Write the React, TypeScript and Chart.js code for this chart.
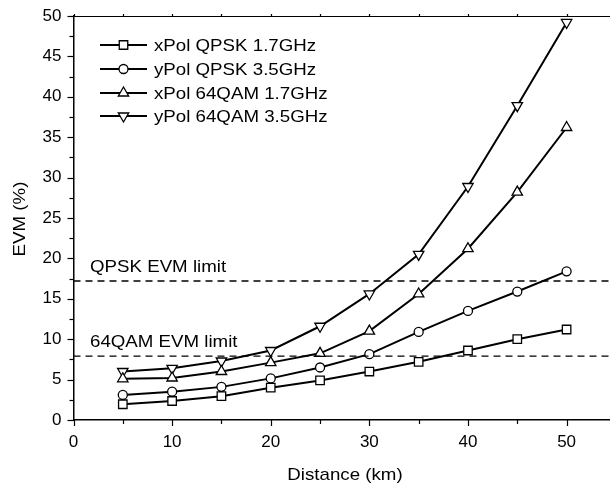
import React, { useEffect, useRef } from "react";
import { Chart, registerables } from "chart.js";

Chart.register(...registerables);

const distances = [5, 10, 15, 20, 25, 30, 35, 40, 45, 50];
const xPolQpsk17 = [1.95, 2.35, 2.95, 4.0, 4.9, 6.0, 7.2, 8.6, 10.0, 11.2];
const yPolQpsk35 = [3.1, 3.5, 4.1, 5.15, 6.5, 8.15, 10.9, 13.5, 15.9, 18.4];
const xPol64Qam17 = [5.1, 5.2, 6.0, 7.1, 8.25, 11.0, 15.6, 21.2, 28.2, 36.2];
const yPol64Qam35 = [6.0, 6.4, 7.3, 8.6, 11.6, 15.6, 20.5, 28.9, 38.9, 49.2];
const seriesLabels = ["xPol QPSK 1.7GHz", "yPol QPSK 3.5GHz", "xPol 64QAM 1.7GHz", "yPol 64QAM 3.5GHz"];
const qpskLimit = 17.2;
const qam64Limit = 7.9;
const limitLabels = ["QPSK EVM limit", "64QAM EVM limit"];
const X_MIN = 0;
const X_MAX = 54.3;
const Y_MIN = 0;
const Y_MAX = 50;

const FONT = '"Liberation Sans", Arial, sans-serif';
const FS = 17;
const STRETCH = 1.1;

type Marker = "rect" | "circle" | "up" | "down";
const markers: Marker[] = ["rect", "circle", "up", "down"];

function drawMarker(ctx: CanvasRenderingContext2D, m: Marker, x: number, y: number) {
  ctx.save();
  ctx.fillStyle = "#fff";
  ctx.strokeStyle = "#000";
  ctx.lineWidth = 1.3;
  ctx.beginPath();
  if (m === "rect") {
    const s = 4.25;
    ctx.rect(x - s, y - s, 2 * s, 2 * s);
  } else if (m === "circle") {
    ctx.arc(x, y, 4.5, 0, Math.PI * 2);
  } else {
    const r = 6;
    const d = m === "up" ? 1 : -1;
    ctx.moveTo(x, y - d * r);
    ctx.lineTo(x + r * Math.sin((2 * Math.PI) / 3), y + (d * r) / 2);
    ctx.lineTo(x - r * Math.sin((2 * Math.PI) / 3), y + (d * r) / 2);
    ctx.closePath();
  }
  ctx.fill();
  ctx.stroke();
  ctx.restore();
}

function wideText(ctx: CanvasRenderingContext2D, text: string, x: number, y: number) {
  ctx.save();
  ctx.translate(x, y);
  ctx.scale(STRETCH, 1);
  ctx.fillText(text, 0, 0);
  ctx.restore();
}

const decorPlugin = {
  id: "decor",
  afterDraw(chart: any) {
    const ctx: CanvasRenderingContext2D = chart.ctx;
    const xs = chart.scales.x;
    const ys = chart.scales.y;
    const area = chart.chartArea;
    ctx.save();
    ctx.strokeStyle = "#000";
    ctx.lineWidth = 1.2;
    for (let v = 0; v <= 50; v += 5) {
      const px = Math.round(xs.getPixelForValue(v)) + 0.5;
      const len = v % 10 === 0 ? 6 : 4;
      ctx.beginPath();
      ctx.moveTo(px, area.bottom);
      ctx.lineTo(px, area.bottom + len);
      ctx.stroke();
      ctx.beginPath();
      ctx.moveTo(px, area.top);
      ctx.lineTo(px, area.top - 2);
      ctx.stroke();
    }
    for (let v = 0; v <= 50; v += 2.5) {
      const py = Math.round(ys.getPixelForValue(v)) + 0.5;
      const len = v % 5 === 0 ? 6 : 4;
      ctx.beginPath();
      ctx.moveTo(area.left, py);
      ctx.lineTo(area.left - len, py);
      ctx.stroke();
    }
    ctx.beginPath();
    ctx.moveTo(area.left, area.top + 0.5);
    ctx.lineTo(area.right + 2, area.top + 0.5);
    ctx.stroke();

    ctx.fillStyle = "#000";
    ctx.font = `${FS}px ${FONT}`;
    ctx.textBaseline = "middle";
    ctx.textAlign = "left";
    wideText(ctx, limitLabels[0], 90, ys.getPixelForValue(qpskLimit) - 14);
    wideText(ctx, limitLabels[1], 90, ys.getPixelForValue(qam64Limit) - 14);

    const rows = [45, 69, 93, 116];
    seriesLabels.forEach((lab, i) => {
      const y = rows[i];
      ctx.lineWidth = 2;
      ctx.beginPath();
      ctx.moveTo(100, y);
      ctx.lineTo(147, y);
      ctx.stroke();
      drawMarker(ctx, markers[i], 123.5, y);
      ctx.fillStyle = "#000";
      wideText(ctx, lab, 154, y + 1);
    });

    ctx.textAlign = "center";
    wideText(ctx, "Distance (km)", 345, 475);
    ctx.save();
    ctx.translate(20, 219);
    ctx.rotate(-Math.PI / 2);
    ctx.scale(STRETCH, 1);
    ctx.fillText("EVM (%)", 0, 0);
    ctx.restore();
    ctx.restore();
  },
};

function series(vals: number[]) {
  return distances.map((d, i) => ({ x: d, y: vals[i] }));
}

export default function App() {
  const ref = useRef<HTMLCanvasElement | null>(null);
  useEffect(() => {
    document.body.style.margin = "0";
    const canvas = ref.current!;
    const common = {
      borderColor: "#000",
      borderWidth: 2,
      pointBackgroundColor: "#fff",
      pointBorderColor: "#000",
      pointBorderWidth: 1.3,
      tension: 0,
      fill: false,
    };
    const chart = new Chart(canvas, {
      type: "line",
      data: {
        datasets: [
          { ...common, label: "qpskLimit", data: [{ x: X_MIN, y: qpskLimit }, { x: X_MAX, y: qpskLimit }], borderWidth: 1.3, borderDash: [7, 5], pointRadius: 0 },
          { ...common, label: "qamLimit", data: [{ x: X_MIN, y: qam64Limit }, { x: X_MAX, y: qam64Limit }], borderWidth: 1.3, borderDash: [7, 5], pointRadius: 0 },
          { ...common, label: seriesLabels[0], data: series(xPolQpsk17), pointStyle: "rect", pointRadius: 6 },
          { ...common, label: seriesLabels[1], data: series(yPolQpsk35), pointStyle: "circle", pointRadius: 4.5 },
          { ...common, label: seriesLabels[2], data: series(xPol64Qam17), pointStyle: "triangle", pointRadius: 6 },
          { ...common, label: seriesLabels[3], data: series(yPol64Qam35), pointStyle: "triangle", pointRadius: 6, pointRotation: 180 },
        ] as any,
      },
      options: {
        animation: false,
        responsive: false,
        layout: { autoPadding: false, padding: { top: 16, right: 1, left: 0, bottom: 0 } },
        plugins: { legend: { display: false }, tooltip: { enabled: false } },
        scales: {
          x: {
            type: "linear",
            min: X_MIN,
            max: X_MAX,
            afterFit: (s: any) => { s.height = 65; s.paddingLeft = 0; s.paddingRight = 0; },
            border: { display: true, color: "#000", width: 1.5 },
            grid: { display: true, drawOnChartArea: false, drawTicks: true, tickLength: 6, tickColor: "transparent" },
            ticks: {
              stepSize: 10,
              includeBounds: false,
              padding: 6,
              color: "#000",
              font: { family: FONT, size: FS },
              maxRotation: 0,
              autoSkip: false,
            },
          },
          y: {
            type: "linear",
            min: Y_MIN,
            max: Y_MAX,
            afterFit: (s: any) => { s.width = 73.5; s.paddingTop = 0; s.paddingBottom = 0; },
            border: { display: true, color: "#000", width: 1.5 },
            grid: { display: true, drawOnChartArea: false, drawTicks: true, tickLength: 6, tickColor: "transparent" },
            ticks: {
              stepSize: 5,
              padding: 6,
              color: "#000",
              font: { family: FONT, size: FS },
              autoSkip: false,
            },
          },
        },
      } as any,
      plugins: [decorPlugin],
    });
    return () => chart.destroy();
  }, []);
  return <canvas ref={ref} width={610} height={485} style={{ display: "block" }} />;
}
